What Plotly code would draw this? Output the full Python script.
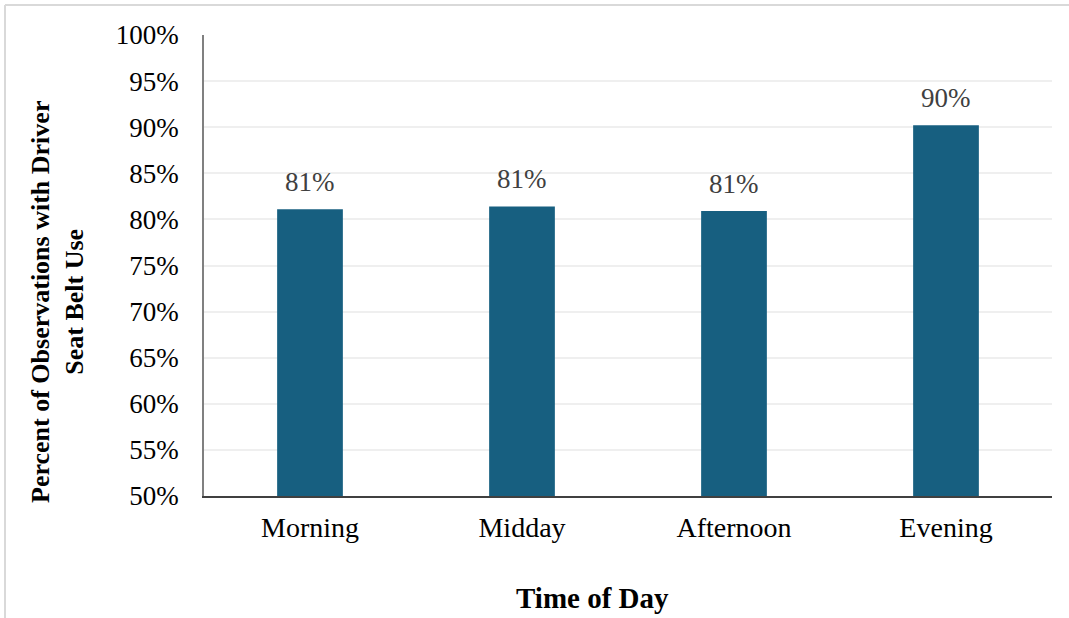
import plotly.graph_objects as go

# Driver seat belt use by time of day
periods = ["Morning", "Midday", "Afternoon", "Evening"]
belt_use = [0.811, 0.814, 0.809, 0.902]

W, H = 1069, 618
L, R, T, B = 204, 17, 35, 122
plot_w = W - L - R
plot_h = H - T - B

def px_x(x):
    return (x - L) / plot_w

def px_y(y):
    return (H - B - y) / plot_h

FONT = "Liberation Serif, Times New Roman, serif"
BAR = "#175f80"

fig = go.Figure(
    go.Bar(
        x=periods,
        y=belt_use,
        marker=dict(color=BAR, line=dict(width=0)),
        width=0.31,
        hoverinfo="x+y",
    )
)

# value labels above each bar
for p, v in zip(periods, belt_use):
    fig.add_annotation(
        x=p, y=v, xref="x", yref="y",
        text=f"{v:.0%}",
        showarrow=False, yanchor="bottom", yshift=10,
        font=dict(family=FONT, size=27, color="#404040"),
    )

# axis titles
fig.add_annotation(
    x=px_x(592), y=px_y(598), xref="paper", yref="paper",
    text="<b>Time of Day</b>", showarrow=False,
    xanchor="center", yanchor="middle",
    font=dict(family=FONT, size=29, color="black"),
)
fig.add_annotation(
    x=px_x(58), y=px_y(302), xref="paper", yref="paper",
    text="<b>Percent of Observations with Driver<br>Seat Belt Use</b>",
    showarrow=False, textangle=-90,
    xanchor="center", yanchor="middle",
    font=dict(family=FONT, size=26, color="black"),
)

# outer frame lines (top and left)
frame = dict(color="#d9d9d9", width=2)
fig.add_shape(type="line", xref="paper", yref="paper",
              x0=px_x(5), x1=px_x(W), y0=px_y(5), y1=px_y(5), line=frame)
fig.add_shape(type="line", xref="paper", yref="paper",
              x0=px_x(5), x1=px_x(5), y0=px_y(5), y1=px_y(H), line=frame)

fig.update_layout(
    width=W, height=H,
    margin=dict(l=L, r=R, t=T, b=B),
    paper_bgcolor="white", plot_bgcolor="white",
    showlegend=False,
    font=dict(family=FONT, size=27, color="black"),
    xaxis=dict(
        showline=True, linecolor="#404040", linewidth=1.5,
        ticks="", ticklabelstandoff=6,
        tickfont=dict(family=FONT, size=28, color="black"),
        showgrid=False,
    ),
    yaxis=dict(
        range=[0.5, 1.0],
        tickvals=[0.5 + 0.05 * i for i in range(11)],
        tickformat=".0%",
        showline=True, linecolor="#808080", linewidth=1.5,
        showgrid=True, gridcolor="#efefef", gridwidth=2,
        ticks="", ticklabelstandoff=18,
        tickfont=dict(family=FONT, size=27, color="black"),
        zeroline=False,
    ),
)

fig.write_html("out.html")
